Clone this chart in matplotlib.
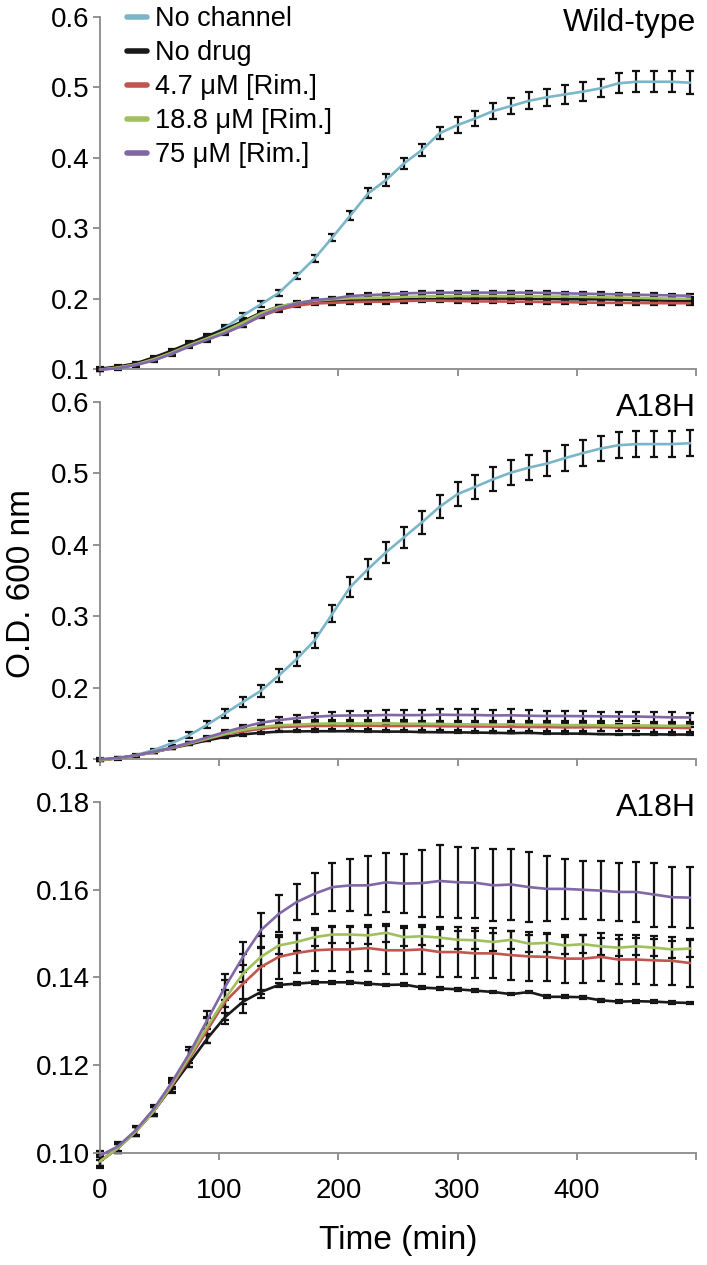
import numpy as np
import matplotlib
matplotlib.use("Agg")
import matplotlib.pyplot as plt

plt.rcParams['font.family'] = ['Liberation Sans', 'DejaVu Sans']

# ---------------- data ----------------
time_min = list(range(0, 496, 15))

series_labels = ["No channel", "No drug", "4.7 \u03bcM [Rim.]", "18.8 \u03bcM [Rim.]", "75 \u03bcM [Rim.]"]
series_colors = ["#7ab6c8", "#1a1a1a", "#c0564f", "#a0c05e", "#8068a6"]

# Wild-type panel
wt_no_channel = [0.100, 0.101, 0.106, 0.113, 0.121, 0.133, 0.145, 0.159, 0.176, 0.192, 0.208, 0.232,
                 0.257, 0.287, 0.318, 0.3495, 0.3685, 0.392, 0.411, 0.435, 0.4466, 0.456, 0.4665,
                 0.4736, 0.481, 0.486, 0.490, 0.494, 0.4987, 0.5058, 0.508, 0.508, 0.508, 0.5067]
wt_no_channel_err = [0.001, 0.001, 0.001, 0.001, 0.001, 0.0015, 0.002, 0.003, 0.004, 0.004, 0.004, 0.0045,
                     0.005, 0.005, 0.0066, 0.007, 0.008, 0.008, 0.009, 0.009, 0.011, 0.011, 0.011,
                     0.012, 0.012, 0.012, 0.013, 0.013, 0.013, 0.014, 0.015, 0.015, 0.015, 0.016]
wt_no_drug = [0.1005, 0.1035, 0.108, 0.1165, 0.126, 0.1367, 0.147, 0.1566, 0.168, 0.180, 0.1887, 0.193,
              0.1957, 0.1966, 0.198, 0.198, 0.198, 0.199, 0.199, 0.1995, 0.200, 0.200, 0.200, 0.200,
              0.1995, 0.1995, 0.199, 0.199, 0.199, 0.1985, 0.198, 0.1975, 0.197, 0.1966]
wt_rim47 = [0.099, 0.102, 0.1063, 0.1137, 0.123, 0.1335, 0.1425, 0.152, 0.1625, 0.175, 0.184, 0.190,
            0.193, 0.194, 0.195, 0.1955, 0.1955, 0.1966, 0.197, 0.197, 0.1965, 0.196, 0.196, 0.1957,
            0.1955, 0.195, 0.195, 0.1945, 0.194, 0.194, 0.1938, 0.1935, 0.1935, 0.1934]
wt_rim188 = [0.099, 0.102, 0.1063, 0.1137, 0.123, 0.134, 0.1435, 0.154, 0.166, 0.179, 0.1887, 0.194,
             0.197, 0.199, 0.2005, 0.201, 0.2015, 0.2025, 0.203, 0.2035, 0.2037, 0.2037, 0.2037, 0.2035,
             0.2035, 0.203, 0.203, 0.2025, 0.202, 0.2015, 0.201, 0.2005, 0.200, 0.200]
wt_rim75 = [0.099, 0.101, 0.1055, 0.112, 0.1215, 0.132, 0.1415, 0.151, 0.162, 0.176, 0.186, 0.193,
            0.198, 0.200, 0.2037, 0.205, 0.206, 0.2075, 0.208, 0.2085, 0.2085, 0.2085, 0.2085, 0.2085,
            0.2085, 0.208, 0.2075, 0.207, 0.2065, 0.206, 0.2055, 0.205, 0.2045, 0.204]
wt_drug_err = [0.0025] * 34

# A18H panels
a18h_no_channel = [0.100, 0.1008, 0.1055, 0.1124, 0.122, 0.1335, 0.148, 0.164, 0.180, 0.1955, 0.217, 0.240,
                   0.266, 0.3035, 0.341, 0.3663, 0.3895, 0.4105, 0.4314, 0.4533, 0.471, 0.4813, 0.492,
                   0.5012, 0.5082, 0.5138, 0.5214, 0.5284, 0.5348, 0.5395, 0.541, 0.541, 0.541, 0.5423]
a18h_no_channel_err = [0.002, 0.002, 0.002, 0.002, 0.003, 0.004, 0.005, 0.006, 0.007, 0.008, 0.009, 0.010,
                       0.011, 0.012, 0.014, 0.014, 0.015, 0.015, 0.016, 0.016, 0.017, 0.017, 0.017,
                       0.017, 0.017, 0.017, 0.018, 0.018, 0.018, 0.018, 0.018, 0.0185, 0.0185, 0.0186]
a18h_no_drug = [0.0981, 0.1011, 0.1049, 0.1095, 0.115, 0.1205, 0.1261, 0.131, 0.1345, 0.1367, 0.1383, 0.1386,
                0.1389, 0.1389, 0.1389, 0.1386, 0.1383, 0.1384, 0.1377, 0.1375, 0.1373, 0.137, 0.1367,
                0.1362, 0.1367, 0.1356, 0.1356, 0.1355, 0.1348, 0.1345, 0.1346, 0.1345, 0.1343, 0.1342]
a18h_rim47 = [0.0981, 0.1011, 0.1049, 0.1095, 0.1152, 0.1215, 0.128, 0.1345, 0.1386, 0.1424, 0.1447, 0.1456,
              0.1462, 0.1464, 0.1464, 0.1467, 0.1462, 0.1462, 0.1464, 0.1458, 0.1458, 0.1455, 0.1455,
              0.1451, 0.1448, 0.1447, 0.1443, 0.1443, 0.1447, 0.1441, 0.1441, 0.1439, 0.1438, 0.1433]
a18h_rim188 = [0.0981, 0.1011, 0.1049, 0.1095, 0.1155, 0.122, 0.1288, 0.1352, 0.1409, 0.1447, 0.1473, 0.1481,
               0.1492, 0.1498, 0.1498, 0.1496, 0.1502, 0.1492, 0.1494, 0.1491, 0.1486, 0.1485, 0.1481,
               0.1486, 0.1477, 0.1479, 0.1473, 0.1476, 0.1471, 0.1468, 0.1471, 0.1468, 0.1464, 0.1466]
a18h_rim75 = [0.0994, 0.1015, 0.1052, 0.110, 0.116, 0.1227, 0.1303, 0.1379, 0.1447, 0.1508, 0.1545, 0.1572,
              0.1591, 0.1606, 0.161, 0.161, 0.1617, 0.1614, 0.1615, 0.162, 0.1617, 0.1616, 0.161,
              0.1612, 0.1606, 0.1602, 0.1602, 0.160, 0.1598, 0.1595, 0.1595, 0.1589, 0.1583, 0.1582]
a18h_no_drug_err = [0.0015, 0.001, 0.001, 0.001, 0.001, 0.001, 0.001, 0.0008, 0.0006, 0.0005, 0.0004, 0.0004,
                    0.0004, 0.0003, 0.0003, 0.0003, 0.0003, 0.0003, 0.0003, 0.0003, 0.0003, 0.0003, 0.0003,
                    0.0003, 0.0003, 0.0003, 0.0003, 0.0003, 0.0003, 0.0003, 0.0003, 0.0003, 0.0003, 0.0003]
a18h_rim47_err = [0.001, 0.001, 0.001, 0.001, 0.0015, 0.002, 0.003, 0.005, 0.0068, 0.007, 0.0051, 0.0045,
                  0.0047, 0.005, 0.0052, 0.0053, 0.0055, 0.0055, 0.0055, 0.0056, 0.0057, 0.0057, 0.0057,
                  0.0056, 0.0056, 0.0055, 0.0055, 0.0055, 0.0055, 0.0055, 0.0055, 0.0055, 0.0055, 0.0055]
a18h_rim188_err = [0.001, 0.001, 0.001, 0.001, 0.001, 0.0015, 0.002, 0.002, 0.002, 0.002, 0.002, 0.002,
                   0.002, 0.002, 0.002, 0.002, 0.002, 0.002, 0.002, 0.002, 0.002, 0.002, 0.002,
                   0.002, 0.002, 0.002, 0.002, 0.002, 0.002, 0.002, 0.002, 0.002, 0.002, 0.002]
a18h_rim75_err = [0.001, 0.001, 0.001, 0.001, 0.001, 0.0015, 0.002, 0.003, 0.0035, 0.0038, 0.0042, 0.0042,
                  0.0047, 0.0054, 0.0059, 0.0067, 0.0067, 0.0068, 0.0076, 0.0082, 0.0081, 0.008, 0.0082,
                  0.0082, 0.008, 0.0074, 0.0068, 0.0066, 0.0067, 0.0067, 0.0068, 0.0073, 0.0069, 0.0069]

panel_titles = ["Wild-type", "A18H", "A18H"]
x_ticks = [0, 100, 200, 300, 400, 500]
x_tick_labels = ["0", "100", "200", "300", "400", ""]
y_ticks_top = [0.1, 0.2, 0.3, 0.4, 0.5, 0.6]
y_ticks_bottom = [0.10, 0.12, 0.14, 0.16, 0.18]

# ---------------- figure ----------------
fig = plt.figure(figsize=(7.07, 12.65), dpi=100)
L, R = 100 / 707, 696 / 707
H = 1265
boxes = [(17, 369), (402, 759), (802, 1153)]
axes = [fig.add_axes([L, 1 - b / H, R - L, (b - t) / H]) for t, b in boxes]

spine_col = "#8a8a8a"
for ax in axes:
    for s in ["top", "right"]:
        ax.spines[s].set_visible(False)
    for s in ["left", "bottom"]:
        ax.spines[s].set_color(spine_col)
        ax.spines[s].set_linewidth(1.3)
    ax.set_xlim(0, 500)
    ax.set_xticks(x_ticks)
    ax.tick_params(axis="both", colors=spine_col, labelcolor="black", labelsize=20,
                   direction="out", length=5, width=1.3)
    ax.tick_params(axis="y", pad=2.5)
    ax.tick_params(axis="x", pad=13)

err_kw = dict(fmt="none", ecolor="#111111", elinewidth=1.6, capsize=2.6, capthick=1.6, clip_on=False)


def draw(ax, ys, errs):
    for y, e, c, lab in zip(ys, errs, series_colors, series_labels):
        if y is None:
            continue
        ax.errorbar(time_min, y, yerr=e, zorder=2, **err_kw)
    for y, c, lab in zip(ys, series_colors, series_labels):
        if y is None:
            continue
        ax.plot(time_min, y, color=c, lw=1.9, zorder=3, label=lab, clip_on=False,
                solid_capstyle="round")


# top panel
draw(axes[0], [wt_no_channel, wt_no_drug, wt_rim47, wt_rim188, wt_rim75],
     [wt_no_channel_err, wt_drug_err, wt_drug_err, wt_drug_err, wt_drug_err])
# middle panel
draw(axes[1], [a18h_no_channel, a18h_no_drug, a18h_rim47, a18h_rim188, a18h_rim75],
     [a18h_no_channel_err, a18h_no_drug_err, a18h_rim47_err, a18h_rim188_err, a18h_rim75_err])
# bottom panel (zoom, no "No channel" line)
draw(axes[2], [None, a18h_no_drug, a18h_rim47, a18h_rim188, a18h_rim75],
     [None, a18h_no_drug_err, a18h_rim47_err, a18h_rim188_err, a18h_rim75_err])

for ax in axes[:2]:
    ax.set_ylim(0.1, 0.6)
    ax.set_yticks(y_ticks_top)
    ax.set_yticklabels([f"{v:.1f}" for v in y_ticks_top])
    ax.set_xticklabels([])
axes[2].set_ylim(0.10, 0.18)
axes[2].set_yticks(y_ticks_bottom)
axes[2].set_yticklabels([f"{v:.2f}" for v in y_ticks_bottom])
axes[2].set_xticklabels(x_tick_labels)

for ax, title in zip(axes, panel_titles):
    ax.annotate(title, xy=(1.0, 1.0), xycoords="axes fraction", xytext=(0, -10),
                textcoords="offset points", ha="right", va="baseline", fontsize=23)

# legend
handles, labels = axes[0].get_legend_handles_labels()
leg = axes[0].legend(handles, labels, loc="upper left", bbox_to_anchor=(27 / 596, 1 + 11 / 352),
                     frameon=False, fontsize=19.5, handlelength=0.75, handletextpad=0.3,
                     labelspacing=0.3, borderpad=0, borderaxespad=0)
for h in leg.legend_handles:
    h.set_linewidth(4)

fig.text(22 / 707, 1 - 583 / H, "O.D. 600 nm", rotation=90, ha="center", va="center", fontsize=24)
fig.text((L + R) / 2, 1 - 1240 / H, "Time (min)", ha="center", va="center", fontsize=24)

fig.savefig("out.png", dpi=100)
